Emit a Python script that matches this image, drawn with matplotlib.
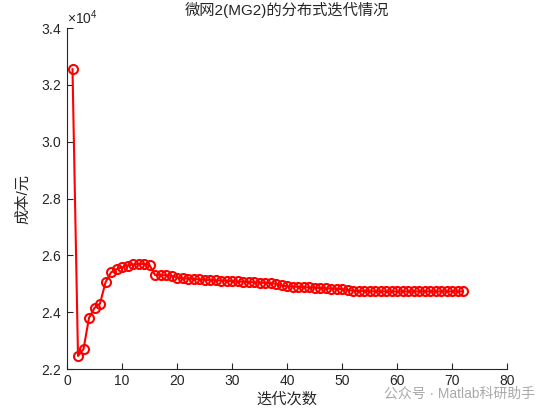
import matplotlib
matplotlib.use('Agg')
import matplotlib.pyplot as plt
from matplotlib.ticker import ScalarFormatter

plt.rcParams['font.family'] = ['Liberation Sans', 'Noto Sans CJK SC', 'DejaVu Sans']
plt.rcParams['mathtext.fontset'] = 'custom'
plt.rcParams['mathtext.rm'] = 'Liberation Sans'

# --- data ---
iterations = list(range(1, 73))
cost = [
    32550, 22460, 22700, 23800, 24150, 24300, 25050, 25400, 25510, 25580,
    25640, 25680, 25690, 25700, 25660, 25310, 25300, 25300, 25280, 25210,
    25190, 25180, 25170, 25150, 25140, 25130, 25120, 25110, 25100, 25090,
    25080, 25070, 25060, 25050, 25040, 25030, 25020, 25000, 24940, 24910,
    24900, 24890, 24880, 24870, 24860, 24850, 24840, 24830, 24820, 24810,
    24790, 24750, 24740, 24740, 24740, 24730, 24730, 24730, 24730, 24730,
    24730, 24730, 24730, 24730, 24730, 24730, 24730, 24730, 24730, 24730,
    24730, 24730,
]
x_ticks = [0, 10, 20, 30, 40, 50, 60, 70, 80]
y_ticks = [22000, 24000, 26000, 28000, 30000, 32000, 34000]

title = '微网2(MG2)的分布式迭代情况'
xlabel = '迭代次数'
ylabel = '成本/元'
watermark = '公众号 · Matlab科研助手'

dark = '#262626'

fig = plt.figure(figsize=(5.53, 4.15), dpi=100)
ax = fig.add_axes([67 / 553, 1 - 369 / 415, 440 / 553, 341 / 415])

ax.plot(iterations, cost, color='red', linestyle='-', linewidth=1.5,
        marker='o', markersize=6.5, markerfacecolor='none',
        markeredgecolor='red', markeredgewidth=1.5)

ax.set_xlim(0, 80)
ax.set_ylim(22000, 34000)
ax.set_xticks(x_ticks)
ax.set_yticks(y_ticks)

fmt = ScalarFormatter(useMathText=True)
fmt.set_powerlimits((0, 0))
ax.yaxis.set_major_formatter(fmt)
ax.yaxis.get_offset_text().set_fontsize(10)
ax.yaxis.get_offset_text().set_color(dark)

for side in ['top', 'right']:
    ax.spines[side].set_visible(False)
for side in ['left', 'bottom']:
    ax.spines[side].set_color(dark)
    ax.spines[side].set_linewidth(0.8)

ax.tick_params(direction='in', length=4, width=0.8, colors=dark,
               labelsize=10, labelcolor=dark)

ax.set_title(title, fontsize=11, color=dark, pad=9)
ax.set_xlabel(xlabel, fontsize=11, color=dark, labelpad=3)
ax.set_ylabel(ylabel, fontsize=11, color=dark, labelpad=8)

# watermark sits over the lower-right tick labels, as in the reference
fig.text(535 / 553, 1 - 394 / 415, watermark, ha='right', va='center',
         fontsize=10, color='#a0a0a0', alpha=0.9)

fig.savefig('out.png', dpi=100, facecolor='white')
